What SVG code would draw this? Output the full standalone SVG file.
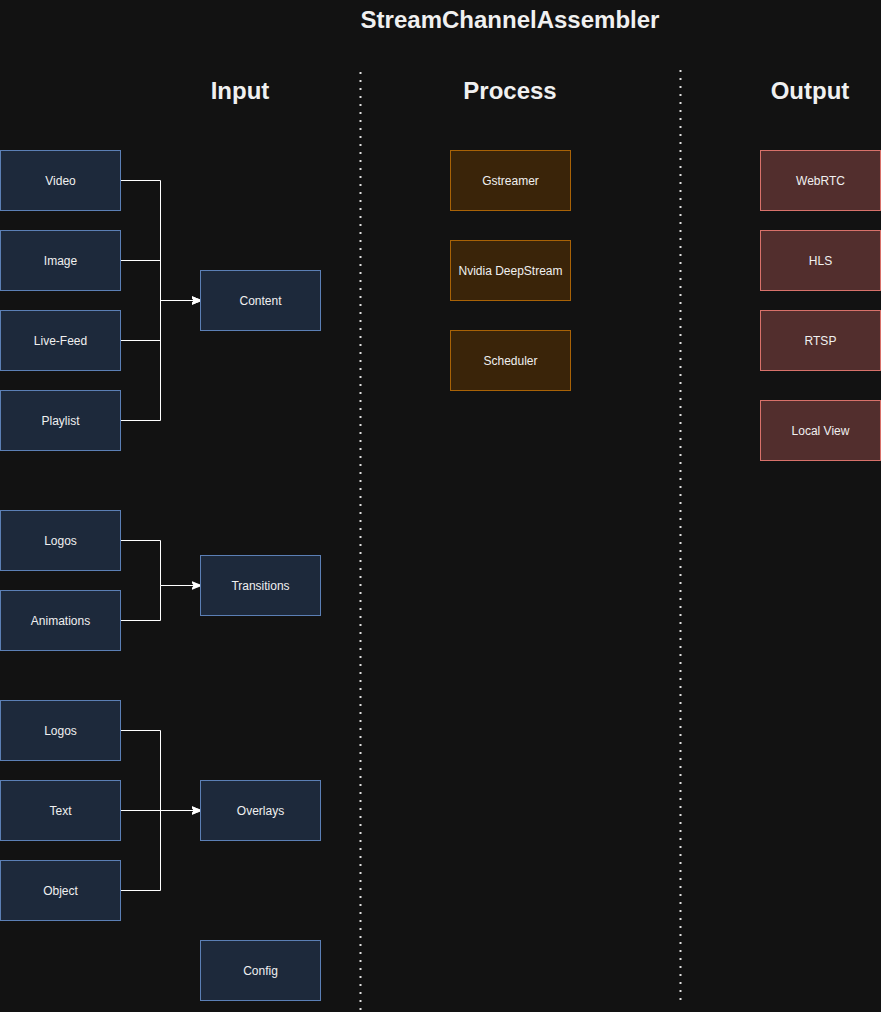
<svg xmlns="http://www.w3.org/2000/svg" width="881" height="1012" viewBox="0 0 881 1012">
<defs>
<style>
.bg{fill:#121212}
.blue rect{fill:#1d293b;stroke:#5b7fb5;stroke-width:1}
.orange rect{fill:#3a2409;stroke:#a86206;stroke-width:1}
.red rect{fill:#522e2d;stroke:#d8716a;stroke-width:1}
.node text{font-family:"Liberation Sans",Arial,sans-serif;font-size:12px;fill:#f0f0f0;text-anchor:middle}
.hdr{font-family:"Liberation Sans",Arial,sans-serif;font-size:24px;font-weight:bold;fill:#f0f0f0;text-anchor:middle}
.sep{stroke:#e0e0e0;stroke-width:2;stroke-dasharray:2 6;fill:none}
.conn path{fill:none;stroke:#ffffff;stroke-width:1;marker-end:url(#arr)}
</style>
<marker id="arr" viewBox="0 0 10 10" refX="9" refY="5" markerWidth="10" markerHeight="10" markerUnits="userSpaceOnUse" orient="auto">
<path d="M0,1 L10,5 L0,9 L2.5,5 Z" fill="#ffffff" stroke="#ffffff" stroke-width="0.5"/>
</marker>
</defs>
<rect class="bg" x="0" y="0" width="881" height="1012"/>
<text class="hdr" x="510" y="28">StreamChannelAssembler</text>
<text class="hdr" x="240" y="99">Input</text>
<text class="hdr" x="510" y="99">Process</text>
<text class="hdr" x="810" y="99">Output</text>
<line class="sep" x1="360.5" y1="72" x2="360.5" y2="1012"/>
<line class="sep" x1="680.5" y1="70" x2="680.5" y2="1000"/>
<g id="connectors" class="conn">
<path d="M120.5 180.5 H160.5 V300.5 H200.5"/>
<path d="M120.5 260.5 H160.5 V300.5 H200.5"/>
<path d="M120.5 340.5 H160.5 V300.5 H200.5"/>
<path d="M120.5 420.5 H160.5 V300.5 H200.5"/>
<path d="M120.5 540.5 H160.5 V585.5 H200.5"/>
<path d="M120.5 620.5 H160.5 V585.5 H200.5"/>
<path d="M120.5 730.5 H160.5 V810.5 H200.5"/>
<path d="M120.5 810.5 H200.5"/>
<path d="M120.5 890.5 H160.5 V810.5 H200.5"/>
</g>
<g id="video" class="node blue"><rect x="0.5" y="150.5" width="120" height="60"/><text x="60.5" y="185">Video</text></g>
<g id="image" class="node blue"><rect x="0.5" y="230.5" width="120" height="60"/><text x="60.5" y="265">Image</text></g>
<g id="livefeed" class="node blue"><rect x="0.5" y="310.5" width="120" height="60"/><text x="60.5" y="345">Live-Feed</text></g>
<g id="playlist" class="node blue"><rect x="0.5" y="390.5" width="120" height="60"/><text x="60.5" y="425">Playlist</text></g>
<g id="logos1" class="node blue"><rect x="0.5" y="510.5" width="120" height="60"/><text x="60.5" y="545">Logos</text></g>
<g id="animations" class="node blue"><rect x="0.5" y="590.5" width="120" height="60"/><text x="60.5" y="625">Animations</text></g>
<g id="logos2" class="node blue"><rect x="0.5" y="700.5" width="120" height="60"/><text x="60.5" y="735">Logos</text></g>
<g id="text" class="node blue"><rect x="0.5" y="780.5" width="120" height="60"/><text x="60.5" y="815">Text</text></g>
<g id="object" class="node blue"><rect x="0.5" y="860.5" width="120" height="60"/><text x="60.5" y="895">Object</text></g>
<g id="content" class="node blue"><rect x="200.5" y="270.5" width="120" height="60"/><text x="260.5" y="305">Content</text></g>
<g id="transitions" class="node blue"><rect x="200.5" y="555.5" width="120" height="60"/><text x="260.5" y="590">Transitions</text></g>
<g id="overlays" class="node blue"><rect x="200.5" y="780.5" width="120" height="60"/><text x="260.5" y="815">Overlays</text></g>
<g id="config" class="node blue"><rect x="200.5" y="940.5" width="120" height="60"/><text x="260.5" y="975">Config</text></g>
<g id="gstreamer" class="node orange"><rect x="450.5" y="150.5" width="120" height="60"/><text x="510.5" y="185">Gstreamer</text></g>
<g id="deepstream" class="node orange"><rect x="450.5" y="240.5" width="120" height="60"/><text x="510.5" y="275">Nvidia DeepStream</text></g>
<g id="scheduler" class="node orange"><rect x="450.5" y="330.5" width="120" height="60"/><text x="510.5" y="365">Scheduler</text></g>
<g id="webrtc" class="node red"><rect x="760.5" y="150.5" width="120" height="60"/><text x="820.5" y="185">WebRTC</text></g>
<g id="hls" class="node red"><rect x="760.5" y="230.5" width="120" height="60"/><text x="820.5" y="265">HLS</text></g>
<g id="rtsp" class="node red"><rect x="760.5" y="310.5" width="120" height="60"/><text x="820.5" y="345">RTSP</text></g>
<g id="localview" class="node red"><rect x="760.5" y="400.5" width="120" height="60"/><text x="820.5" y="435">Local View</text></g>
</svg>
